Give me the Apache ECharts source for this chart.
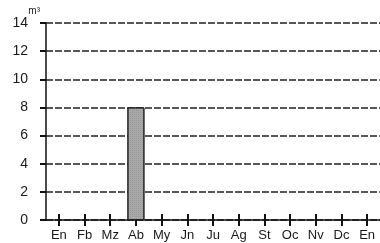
<!DOCTYPE html>
<html>
<head>
<meta charset="utf-8">
<script src="https://cdn.jsdelivr.net/npm/echarts@6/dist/echarts.min.js"></script>
<style>
  html, body { margin: 0; padding: 0; background: #fff; }
  #chart { width: 380px; height: 243px; }
</style>
</head>
<body>
<div id="chart"></div>
<script>
const months = ['En', 'Fb', 'Mz', 'Ab', 'My', 'Jn', 'Ju', 'Ag', 'St', 'Oc', 'Nv', 'Dc', 'En'];
const volume = [null, null, null, 8, null, null, null, null, null, null, null, null, null];
const yTicks = [0, 2, 4, 6, 8, 10, 12, 14];

const dom = document.getElementById('chart');
const myChart = echarts.init(dom);

const font = 'Liberation Sans, Arial, sans-serif';
const tickStyle = { color: '#111', width: 2 };

const option = {
    animation: false,
    grid: { left: 46, right: -5, top: 23, bottom: 23 },
    xAxis: [{
        type: 'category',
        data: months,
        axisLine: { show: true, lineStyle: { color: '#111', width: 1.5 } },
        axisTick: { show: true, alignWithLabel: true, length: 6, lineStyle: tickStyle },
        axisLabel: { color: '#1a1a1a', fontSize: 13, fontFamily: font, margin: 9, interval: 0 }
    }, {
        // upper half of the crossing ticks
        type: 'category',
        data: months,
        position: 'bottom',
        offset: 0,
        axisLine: { show: false },
        axisTick: { show: true, inside: true, alignWithLabel: true, length: 6, lineStyle: tickStyle },
        axisLabel: { show: false }
    }],
    yAxis: {
        type: 'value',
        min: yTicks[0],
        max: yTicks[yTicks.length - 1],
        interval: 2,
        name: 'm³',
        nameLocation: 'end',
        nameGap: 3,
        nameTextStyle: { fontSize: 10, color: '#1a1a1a', fontFamily: font, align: 'right', padding: [0, 6, 0, 0] },
        axisLine: { show: true, lineStyle: { color: '#111', width: 1.5 } },
        axisTick: { show: true, length: 6, lineStyle: tickStyle },
        axisLabel: { color: '#1a1a1a', fontSize: 14, fontFamily: font, margin: 18 },
        splitLine: { show: true, lineStyle: { color: '#222', width: 1.5, type: [7, 2] } }
    },
    series: [{
        type: 'bar',
        data: volume,
        barWidth: 17,
        itemStyle: {
            color: '#a8a8a8',
            borderColor: '#222',
            borderWidth: 1,
            decal: { symbol: 'rect', symbolSize: 0.5, dashArrayX: [1, 1], dashArrayY: [1, 1], color: 'rgba(50,50,50,0.5)' }
        }
    }]
};

myChart.setOption(option);
</script>
</body>
</html>
